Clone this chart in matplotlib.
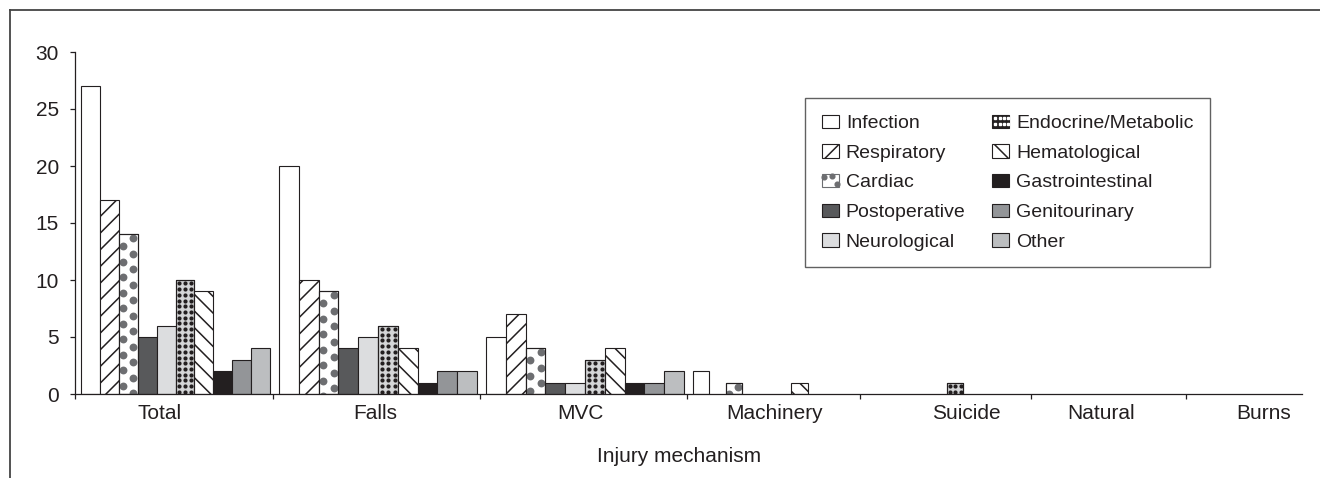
"""Complications by injury mechanism: grouped bar chart in the old Excel look."""

import matplotlib

matplotlib.use("Agg", force=True)
import matplotlib.pyplot as plt
import numpy as np
from matplotlib.legend_handler import HandlerBase
from matplotlib.lines import Line2D
from matplotlib.patches import Rectangle

MECHANISMS = ["Total", "Falls", "MVC", "Machinery", "Suicide", "Natural", "Burns"]
COMPLICATIONS = [
    "Infection", "Respiratory", "Cardiac", "Postoperative", "Neurological",
    "Endocrine/Metabolic", "Hematological", "Gastrointestinal", "Genitourinary", "Other",
]

INFECTION = [27, 20, 5, 2, 0, 0, 0]
RESPIRATORY = [17, 10, 7, 0, 0, 0, 0]
CARDIAC = [14, 9, 4, 1, 0, 0, 0]
POSTOPERATIVE = [5, 4, 1, 0, 0, 0, 0]
NEUROLOGICAL = [6, 5, 1, 0, 0, 0, 0]
ENDOCRINE = [10, 6, 3, 0, 1, 0, 0]
HEMATOLOGICAL = [9, 4, 4, 1, 0, 0, 0]
GASTROINTESTINAL = [2, 1, 1, 0, 0, 0, 0]
GENITOURINARY = [3, 2, 1, 0, 0, 0, 0]
OTHER = [4, 2, 2, 0, 0, 0, 0]

SERIES = [INFECTION, RESPIRATORY, CARDIAC, POSTOPERATIVE, NEUROLOGICAL,
          ENDOCRINE, HEMATOLOGICAL, GASTROINTESTINAL, GENITOURINARY, OTHER]

Y_TICKS = [0, 5, 10, 15, 20, 25, 30]

# layout (x axis in pixel-like units, the groups are not evenly spaced)
GROUP_EDGES = [0, 198, 405, 612, 785, 956, 1111, 1227]
LABEL_X = [85, 300, 505, 700, 891, 1026, 1189]

INK = "#231f20"
STYLES = [
    dict(face="white", hatch=None, dots=None),
    dict(face="white", hatch="//", dots=None),
    dict(face="white", hatch=None, dots="cardiac"),
    dict(face="#58595b", hatch=None, dots=None),
    dict(face="#dcdddf", hatch=None, dots=None),
    dict(face="#d4d5d7", hatch=None, dots="endocrine"),
    dict(face="white", hatch="\\\\", dots=None),
    dict(face=INK, hatch=None, dots=None),
    dict(face="#939598", hatch=None, dots=None),
    dict(face="#bcbec0", hatch=None, dots=None),
]

plt.rcParams["font.family"] = ["Liberation Sans", "DejaVu Sans"]
plt.rcParams["hatch.linewidth"] = 1.1


def add_dots(ax, rect, kind):
    """Dot fill clipped to one bar (Excel-style pattern)."""
    x0, w, h = rect.get_x(), rect.get_width(), rect.get_height()
    if h <= 0:
        return
    xs, ys = [], []
    if kind == "cardiac":
        step = 0.68
        for i, y in enumerate(np.arange(h - 0.35, -0.4, -step)):
            xs.append(x0 + w * (0.22 if i % 2 else 0.77))
            ys.append(y)
        color, size = "#6d6e71", 32
    else:
        step = 0.5
        for y in np.arange(h - 0.3, -0.3, -step):
            for f in (0.2, 0.52, 0.84):
                xs.append(x0 + w * f)
                ys.append(y)
        color, size = INK, 9
    sc = ax.scatter(xs, ys, s=size, color=color, linewidths=0, zorder=2.5)
    sc.set_clip_path(rect)


class Swatch:
    def __init__(self, style):
        self.style = style


class SwatchHandler(HandlerBase):
    def create_artists(self, legend, orig_handle, xdescent, ydescent,
                       width, height, fontsize, trans):
        st = orig_handle.style
        x0, y0 = -xdescent, -ydescent
        artists = []
        if st["dots"] == "endocrine":
            box = Rectangle((x0, y0), width, height, facecolor=INK,
                            edgecolor=INK, lw=0.8, transform=trans)
            artists.append(box)
            gx = [x0 + width * f for f in (0.2, 0.45, 0.7, 0.92)]
            gy = [y0 + height * f for f in (0.3, 0.72)]
            px = [a for a in gx for _ in gy]
            py = [b for _ in gx for b in gy]
            artists.append(Line2D(px, py, ls="none", marker="s", ms=1.8,
                                  mfc="white", mec="white", transform=trans))
        elif st["dots"] == "cardiac":
            box = Rectangle((x0, y0), width, height, facecolor="white",
                            edgecolor="#6d6e71", lw=0.8, transform=trans)
            artists.append(box)
            px = [x0 + width * 0.12, x0 + width * 0.88, x0 + width * 0.6]
            py = [y0 + height * 0.8, y0 + height * 0.25, y0 + height * 0.85]
            artists.append(Line2D(px, py, ls="none", marker="o", ms=3.4,
                                  mfc="#6d6e71", mec="#6d6e71", transform=trans))
        else:
            box = Rectangle((x0, y0), width, height, facecolor=st["face"],
                            edgecolor=INK, lw=0.8, hatch=st["hatch"],
                            transform=trans)
            artists.append(box)
        return artists


fig = plt.figure(figsize=(13.2, 4.78), dpi=100)
ax = fig.add_axes([75 / 1320, 84 / 478, 1227 / 1320, 342 / 478])

n_series = len(SERIES)
for g in range(len(MECHANISMS)):
    left = GROUP_EDGES[g] + 6
    bw = (GROUP_EDGES[g + 1] - GROUP_EDGES[g] - 9) / n_series
    for s, values in enumerate(SERIES):
        st = STYLES[s]
        h = values[g]
        if h == 0:
            continue
        bars = ax.bar(left + s * bw, h, width=bw, align="edge",
                      color=st["face"], edgecolor=INK, linewidth=0.8,
                      hatch=st["hatch"], zorder=2)
        if st["dots"]:
            add_dots(ax, bars[0], st["dots"])
            ax.bar(left + s * bw, h, width=bw, align="edge", fill=False,
                   edgecolor=INK, linewidth=0.8, zorder=3)

ax.set_xlim(GROUP_EDGES[0], GROUP_EDGES[-1])
ax.set_ylim(0, 30)
ax.set_yticks(Y_TICKS)
ax.set_xticks(GROUP_EDGES[:-1])
ax.set_xticklabels([])
ax.set_xticks(LABEL_X, minor=True)
ax.set_xticklabels(MECHANISMS, minor=True)
ax.tick_params(axis="x", which="major", direction="out", length=3.5,
               width=0.9, color=INK)
ax.tick_params(axis="x", which="minor", length=0, pad=7, labelsize=15,
               labelcolor=INK)
ax.tick_params(axis="y", direction="out", length=3.6, width=0.9, color=INK,
               pad=8, labelsize=15, labelcolor=INK)
for side in ("top", "right"):
    ax.spines[side].set_visible(False)
for side in ("left", "bottom"):
    ax.spines[side].set_color(INK)
    ax.spines[side].set_linewidth(0.9)

fig.text(679 / 1320, 1 - 456 / 478, "Injury mechanism", ha="center",
         va="center", fontsize=15, color=INK)

handles = [Swatch(st) for st in STYLES]
leg = ax.legend(
    handles, COMPLICATIONS, handler_map={Swatch: SwatchHandler()},
    ncol=2, loc="upper left",
    bbox_to_anchor=(805 / 1320, 1 - 98 / 478), bbox_transform=fig.transFigure,
    fontsize=14, frameon=True, fancybox=False, borderpad=0.85,
    handlelength=0.9, handleheight=0.7, handletextpad=0.35,
    labelspacing=0.62, columnspacing=1.35, borderaxespad=0,
)
leg.get_frame().set_edgecolor("#3a3a3a")
leg.get_frame().set_linewidth(1.0)
for t in leg.get_texts():
    t.set_color(INK)

# outer frame of the exported chart (only left and top edges are visible)
fig.add_artist(Line2D([10 / 1320, 10 / 1320], [0, 1 - 10 / 478],
                      transform=fig.transFigure, color="#444444", lw=1.3))
fig.add_artist(Line2D([10 / 1320, 1], [1 - 10 / 478, 1 - 10 / 478],
                      transform=fig.transFigure, color="#444444", lw=1.3))

fig.savefig("out.png", dpi=100)
